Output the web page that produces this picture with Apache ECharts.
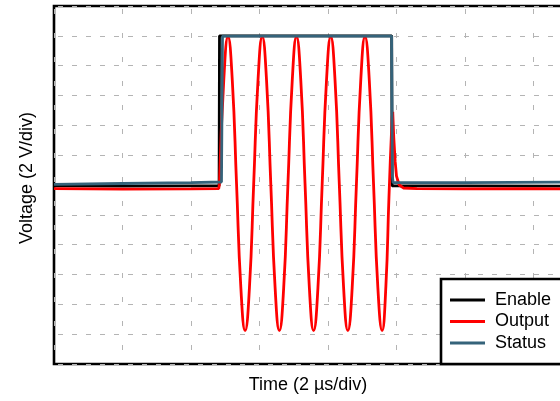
<!DOCTYPE html>
<html>
<head>
<meta charset="utf-8">
<script src="https://cdn.jsdelivr.net/npm/echarts@6/dist/echarts.min.js"></script>
<style>html,body{margin:0;padding:0;background:#fff;}#c{width:560px;height:401px;}</style>
</head>
<body>
<div id="c"></div>
<script>
// Time in divisions (2 µs/div), voltage in divisions (2 V/div)
const seriesNames = ['Enable', 'Output', 'Status'];
const enableData = [[0,5.97],[1,5.96],[2,5.97],[2.41,5.97],[2.416,11.0],[4.93,11.0],[4.936,5.97],[6,5.97],[8,5.96],[10,5.97]];
const statusData = [[0,6.02],[1,6.05],[2,6.08],[2.445,6.1],[2.46,10.99],[4.928,10.99],[4.94,6.3],[4.95,6.08],[4.97,6.07],[6,6.08],[8,6.1],[10,6.1]];
const outputPre = [[0,5.88],[1,5.86],[2,5.87],[2.405,5.88],[2.415,6.03]];
const outputOsc = [[2.415,6.03],[2.478,9.5],[2.54,10.97],[2.603,9.5],[2.665,6.03],[2.728,2.55],[2.79,1.12],[2.853,2.55],[2.915,6.03],[2.978,9.5],
  [3.04,10.97],[3.103,9.5],[3.165,6.03],[3.228,2.55],[3.29,1.12],[3.353,2.55],[3.415,6.03],[3.478,9.5],
  [3.54,10.97],[3.603,9.5],[3.665,6.03],[3.728,2.55],[3.79,1.12],[3.853,2.55],[3.915,6.03],[3.978,9.5],
  [4.04,10.97],[4.103,9.5],[4.165,6.03],[4.228,2.55],[4.29,1.12],[4.353,2.55],[4.415,6.03],[4.478,9.5],
  [4.54,10.97],[4.603,9.5],[4.665,6.03],[4.728,2.55],[4.79,1.12],[4.845,2.6],[4.89,5.6],[4.935,8.2],[4.945,8.45]];
const outputPost = [[4.945,8.45],[4.96,7.6],[4.98,6.8],[5.0,6.3],[5.04,6.0],[5.1,5.9],[5.3,5.88],[6,5.87],[7,5.88],[8,5.86],[10,5.87]];
const xTitle = 'Time (2 µs/div)';
const yTitle = 'Voltage (2 V/div)';
const colors = {Enable:'#000000', Output:'#ff0000', Status:'#35637a'};

const chart = echarts.init(document.getElementById('c'), null, {renderer:'canvas'});
const FONT = 'Liberation Sans, Arial, sans-serif';
function line(name, data, smooth){
  return {name:name, type:'line', data:data, showSymbol:false, smooth:smooth||false,
    lineStyle:{color:colors[name], width:2.8}, itemStyle:{color:colors[name]}, animation:false, z:2};
}
chart.setOption({
  animation:false,
  grid:{left:54, top:6, width:685, height:358, outerBoundsMode:'none', containLabel:false,
    show:true, borderColor:'#000', borderWidth:2.6, backgroundColor:'#fff'},
  xAxis:{type:'value', min:0, max:10, interval:1,
    axisLine:{show:false}, axisTick:{show:false}, axisLabel:{show:false},
    splitLine:{show:true, lineStyle:{color:'#b4b4b4', width:1, type:[5,19], dashOffset:-3}}},
  yAxis:{type:'value', min:0, max:12, interval:1,
    axisLine:{show:false}, axisTick:{show:false}, axisLabel:{show:false},
    splitLine:{show:true, lineStyle:{color:'#b4b4b4', width:1, type:[5,9], dashOffset:-4}}},
  legend:{orient:'vertical', left:441, top:279, data:seriesNames, icon:'rect', itemWidth:35, itemHeight:3,
    itemGap:3.5, padding:[12,40,12,9], backgroundColor:'#fff', borderColor:'#000', borderWidth:2.6, borderRadius:0,
    textStyle:{fontFamily:FONT, fontSize:18, color:'#000', lineHeight:18, padding:[0,0,0,5]}},
  series:[
    line('Enable', enableData),
    line('Output', outputPre),
    line('Output', outputOsc, 0.5),
    line('Output', outputPost),
    line('Status', statusData)
  ],
  graphic:[
    {type:'text', x:308, y:385, style:{text:xTitle, font:'18px '+FONT, fill:'#000', textAlign:'center', textVerticalAlign:'middle'}},
    {type:'text', x:27, y:178, rotation:Math.PI/2, style:{text:yTitle, font:'18px '+FONT, fill:'#000', textAlign:'center', textVerticalAlign:'middle'}}
  ]
});
</script>
</body>
</html>
